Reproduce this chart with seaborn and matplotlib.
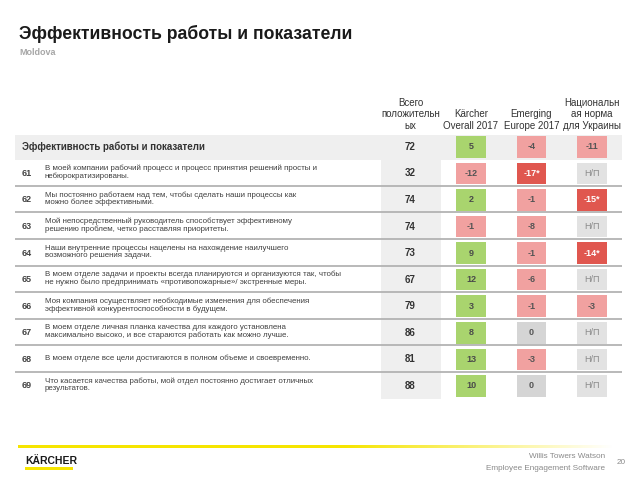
import matplotlib.pyplot as plt
import numpy as np
import pandas as pd
import seaborn as sns

from matplotlib.colors import LinearSegmentedColormap
from matplotlib.patches import Rectangle

title = "Эффективность работы и показатели"
subtitle = "Moldova"
col_headers = ["Всего\nположительн\nых", "Kärcher\nOverall 2017",
               "Emerging\nEurope 2017", "Национальн\nая норма\nдля Украины"]
row_ids = ["", "61", "62", "63", "64", "65", "66", "67", "68", "69"]
row_texts = [
    "Эффективность работы и показатели",
    "В моей компании рабочий процесс и процесс принятия решений просты и\nнебюрократизированы.",
    "Мы постоянно работаем над тем, чтобы сделать наши процессы как\nможно более эффективными.",
    "Мой непосредственный руководитель способствует эффективному\nрешению проблем, четко расставляя приоритеты.",
    "Наши внутренние процессы нацелены на нахождение наилучшего\nвозможного решения задачи.",
    "В моем отделе задачи и проекты всегда планируются и организуются так, чтобы\nне нужно было предпринимать «противопожарные»/ экстренные меры.",
    "Моя компания осуществляет необходимые изменения для обеспечения\nэффективной конкурентоспособности в будущем.",
    "В моем отделе личная планка качества для каждого установлена\nмаксимально высоко, и все стараются работать как можно лучше.",
    "В моем отделе все цели достигаются в полном объеме и своевременно.",
    "Что касается качества работы, мой отдел постоянно достигает отличных\nрезультатов.",
]
total_positive = [72, 32, 74, 74, 73, 67, 79, 86, 81, 88]
karcher_2017 = ["5", "-12", "2", "-1", "9", "12", "3", "8", "13", "10"]
emerging_europe = ["-4", "-17*", "-1", "-8", "-1", "-6", "-1", "0", "-3", "0"]
norm_ukraine = ["-11", "Н/П", "-15*", "Н/П", "-14*", "Н/П", "-3", "Н/П", "Н/П", "Н/П"]

palette = {"pos": "#a9d46e", "neg": "#f1a1a0", "sig": "#e0574f",
           "zero": "#d5d5d5", "na": "#e2e2e2"}
text_colors = {"pos": "#4a4a4a", "neg": "#555555", "sig": "white",
               "zero": "#555555", "na": "#8a8a8a"}


def _category(label: str) -> str:
    if label == "Н/П":
        return "na"
    if label.endswith("*"):
        return "sig"
    v = int(label)
    if v > 0:
        return "pos"
    return "neg" if v < 0 else "zero"


cells = []
for j, column in enumerate([karcher_2017, emerging_europe, norm_ukraine], start=1):
    for i, label in enumerate(column):
        cells.append(dict(row=i, col=j, label=label, cat=_category(label)))
cells = pd.DataFrame(cells)

sns.set_theme(style="white")
plt.rcParams["font.family"] = ["Liberation Sans", "DejaVu Sans"]

fig = plt.figure(figsize=(6.4, 4.8), dpi=100)

# table axes, rows are 0 (summary) .. 9, columns 0 (total) .. 3
ax = fig.add_axes([15 / 640, 80.8 / 480, 607 / 640, 265.6 / 480])

ax.axhspan(-0.45, 0.49, color="#efefef", zorder=0, lw=0)
ax.add_patch(Rectangle((-0.49, 0.49), 0.99, 9.01, color="#efefef", zorder=0, lw=0))
for k in range(1, 9):
    ax.axhline(k + 0.47, color="#b3b3b3", lw=1.3, zorder=1)

rect = [(-15, -10.75), (15, -10.75), (15, 10.75), (-15, 10.75)]
sns.scatterplot(data=cells, x="col", y="row", hue="cat", palette=palette,
                marker=rect, s=466, linewidth=0, legend=False, ax=ax, zorder=2)

for _, c in cells.iterrows():
    bold = c["cat"] != "na"
    ax.text(c["col"], c["row"], c["label"], ha="center", va="center",
            fontsize=6.5, color=text_colors[c["cat"]],
            fontweight="bold" if bold else "normal", zorder=3)

for i, v in enumerate(total_positive):
    ax.text(0, i, str(v), ha="center", va="center", fontsize=7,
            fontweight="bold", color="#333333", zorder=3)

for j, h in enumerate(col_headers):
    ax.text(j, -0.6, h, ha="center", va="bottom", fontsize=7,
            color="#333333", linespacing=1.2)

trans = ax.get_yaxis_transform()
ax.text(0.0115, 0, row_texts[0], transform=trans, ha="left", va="center",
        fontsize=7, fontweight="bold", color="#333333")
for i in range(1, len(row_texts)):
    ax.text(0.0115, i, row_ids[i], transform=trans, ha="left", va="center",
            fontsize=6.5, fontweight="bold", color="#444444")
    ax.text(0.0494, i - 0.05, row_texts[i], transform=trans, ha="left", va="center",
            fontsize=5.7, color="#404040", linespacing=1.05)

ax.set_xlim(-6.537, 3.496)
ax.set_ylim(9.5, -0.5)
ax.set_axis_off()

fig.text(19 / 640, 1 - 39 / 480, title, fontsize=12.7, fontweight="bold", color="#1a1a1a")
fig.text(19 / 640, 1 - 55 / 480, subtitle, fontsize=6.5, fontweight="bold", color="#a6a6a6")

# footer
fade = LinearSegmentedColormap.from_list(
    "fade", [(0, "#f6e500"), (0.55, "#f6e500"), (1, "#ffffff")])
ax_f = fig.add_axes([18 / 640, 1 - 448 / 480, 595 / 640, 3 / 480])
ax_f.imshow(np.linspace(0, 1, 256)[None, :], aspect="auto", cmap=fade)
ax_f.set_axis_off()

fig.text(25 / 640, 1 - 464 / 480, "KÄRCHER", fontsize=7.5, fontweight="bold", color="#1a1a1a")
fig.add_artist(Rectangle((25 / 640, 1 - 470 / 480), 48 / 640, 3 / 480,
                         transform=fig.transFigure, color="#f6e500", lw=0))
fig.text(605 / 640, 1 - 457 / 480, "Willis Towers Watson", ha="right", va="center",
         fontsize=5.9, color="#8a8a8a")
fig.text(605 / 640, 1 - 468 / 480, "Employee Engagement Software", ha="right", va="center",
         fontsize=5.9, color="#8a8a8a")
fig.text(617 / 640, 1 - 462 / 480, "20", ha="left", va="center", fontsize=5.9, color="#8a8a8a")

fig.savefig("out.png", dpi=100, facecolor="white")
